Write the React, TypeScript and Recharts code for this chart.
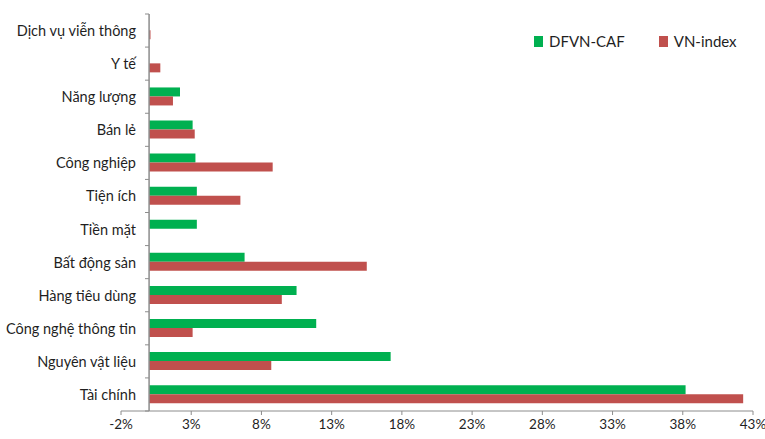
import React from 'react';
import { BarChart, Bar, XAxis, YAxis, ReferenceLine } from 'recharts';

// Tỷ trọng theo ngành (%)
const categories = [
  'Dịch vụ viễn thông',
  'Y tế',
  'Năng lượng',
  'Bán lẻ',
  'Công nghiệp',
  'Tiện ích',
  'Tiền mặt',
  'Bất động sản',
  'Hàng tiêu dùng',
  'Công nghệ thông tin',
  'Nguyên vật liệu',
  'Tài chính',
];
const dfvnCaf = [0, 0, 2.2, 3.1, 3.3, 3.4, 3.4, 6.8, 10.5, 11.9, 17.2, 38.2];
const vnIndex = [0.1, 0.8, 1.7, 3.25, 8.8, 6.5, 0, 15.5, 9.45, 3.1, 8.7, 42.3];
const xTicks = [-2, 3, 8, 13, 18, 23, 28, 33, 38, 43];

const GREEN = '#00B050';
const RED = '#C0504D';
const AXIS = '#8c8c8c';
const FONT = 'Lato, sans-serif';

const W = 765;
const H = 439;
const TOP = 14;
const BOTTOM = 28;
const BAND = (H - TOP - BOTTOM) / categories.length;
const ZERO_X = 149;

const data = categories.map((name, i) => ({
  name,
  dfvn: dfvnCaf[i],
  vn: vnIndex[i],
}));

function CategoryTick(props: any) {
  const { y, payload, index } = props;
  return (
    <g>
      <text
        x={136}
        y={y}
        textAnchor="end"
        dominantBaseline="central"
        fontSize={14.5}
        fontFamily={FONT}
        fill="#1f1f1f"
      >
        {payload.value}
      </text>
      <line x1={145} x2={ZERO_X} y1={y - BAND / 2} y2={y - BAND / 2} stroke={AXIS} />
      {index === categories.length - 1 && (
        <line x1={145} x2={ZERO_X} y1={y + BAND / 2} y2={y + BAND / 2} stroke={AXIS} />
      )}
    </g>
  );
}

function LegendBox() {
  const items = [
    { label: 'DFVN-CAF', color: GREEN },
    { label: 'VN-index', color: RED },
  ];
  return (
    <div
      style={{
        position: 'absolute',
        left: 534,
        top: 32,
        display: 'flex',
        fontFamily: FONT,
        fontSize: 15,
        color: '#1f1f1f',
      }}
    >
      {items.map((it, i) => (
        <div
          key={it.label}
          style={{ display: 'flex', alignItems: 'center', marginRight: i === 0 ? 34 : 0 }}
        >
          <span
            style={{ width: 9, height: 11, background: it.color, display: 'inline-block', marginRight: 6 }}
          />
          {it.label}
        </div>
      ))}
    </div>
  );
}

export default function App() {
  return (
    <div style={{ position: 'absolute', left: 0, top: 0, width: W, height: H, background: '#fff' }}>
      <BarChart
        width={W}
        height={H}
        data={data}
        layout="vertical"
        margin={{ top: TOP, right: 12, bottom: 0, left: 0 }}
        barCategoryGap="22%"
        barGap={0}
      >
        <XAxis
          type="number"
          domain={[-2, 43]}
          ticks={xTicks}
          tickFormatter={(v: number) => `${v}%`}
          interval={0}
          height={BOTTOM}
          stroke={AXIS}
          tickSize={4}
          tick={{ fill: '#1f1f1f', fontSize: 13.5, fontFamily: FONT }}
          tickMargin={4}
        />
        <YAxis
          type="category"
          dataKey="name"
          width={121}
          axisLine={false}
          tickLine={false}
          interval={0}
          tick={<CategoryTick />}
        />
        <ReferenceLine x={0} stroke={AXIS} strokeWidth={1.5} />
        <Bar dataKey="dfvn" name="DFVN-CAF" fill={GREEN} isAnimationActive={false} />
        <Bar dataKey="vn" name="VN-index" fill={RED} isAnimationActive={false} />
      </BarChart>
      <LegendBox />
    </div>
  );
}
